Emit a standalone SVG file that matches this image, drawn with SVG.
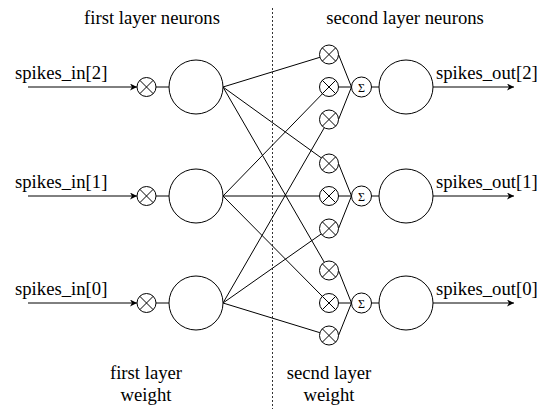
<svg xmlns="http://www.w3.org/2000/svg" width="555" height="409" viewBox="0 0 555 409">
<defs>
<style>
.t{font-family:"Liberation Serif","Times New Roman",serif;font-size:18.7px;fill:#000}
.c{text-anchor:middle}
.ln{stroke:#000;stroke-width:1;fill:none}
.nd{stroke:#000;stroke-width:1;fill:#fff}
.sig{font-family:"Liberation Serif","Times New Roman",serif;font-size:12px;text-anchor:middle;fill:#000}
</style>
<marker id="ah" markerWidth="8" markerHeight="8" refX="7" refY="3.5" orient="auto" markerUnits="userSpaceOnUse">
<path d="M0,0 L7,3.5 L0,7 L2,3.5 Z" fill="#000"/>
</marker>
<g id="mul"><circle r="9.5" class="nd"/><path d="M-6.7,-6.7L6.7,6.7M-6.7,6.7L6.7,-6.7" class="ln"/></g>
</defs>
<rect width="555" height="409" fill="#fff"/>
<line x1="272.5" y1="8" x2="272.5" y2="409" stroke="#333" stroke-width="1" stroke-dasharray="2 2"/>
<text class="t c" x="152" y="24">first layer neurons</text>
<text class="t c" x="405" y="24">second layer neurons</text>
<text class="t c" x="146" y="379">first layer</text>
<text class="t c" x="146" y="401">weight</text>
<text class="t c" x="329" y="379">secnd layer</text>
<text class="t c" x="329" y="401">weight</text>
<g id="connectors">
<line x1="28" y1="87" x2="137" y2="87" class="ln" marker-end="url(#ah)"/>
<line x1="28" y1="196" x2="137" y2="196" class="ln" marker-end="url(#ah)"/>
<line x1="28" y1="303" x2="137" y2="303" class="ln" marker-end="url(#ah)"/>
<line x1="156" y1="87" x2="169" y2="87" class="ln"/>
<line x1="156" y1="196" x2="169" y2="196" class="ln"/>
<line x1="156" y1="303" x2="169" y2="303" class="ln"/>
<line x1="223" y1="87" x2="319.9" y2="57.3" class="ln"/>
<line x1="223" y1="87" x2="321.3" y2="157.9" class="ln"/>
<line x1="223" y1="87" x2="324.3" y2="262.3" class="ln"/>
<line x1="223" y1="196" x2="322.4" y2="93.8" class="ln"/>
<line x1="223" y1="196" x2="319.5" y2="196" class="ln"/>
<line x1="223" y1="196" x2="322.3" y2="296.3" class="ln"/>
<line x1="223" y1="303" x2="324.3" y2="127.7" class="ln"/>
<line x1="223" y1="303" x2="321.2" y2="234" class="ln"/>
<line x1="223" y1="303" x2="319.9" y2="332.7" class="ln"/>
<path d="M338.5,54.5L351.5,87M338.5,87H351.5M338.5,119.5L351.5,87" class="ln"/>
<path d="M338.5,163.5L351.5,196M338.5,196H351.5M338.5,228.5L351.5,196" class="ln"/>
<path d="M338.5,270.5L351.5,303M338.5,303H351.5M338.5,335.5L351.5,303" class="ln"/>
<line x1="371.5" y1="87" x2="379" y2="87" class="ln"/>
<line x1="371.5" y1="196" x2="379" y2="196" class="ln"/>
<line x1="371.5" y1="303" x2="379" y2="303" class="ln"/>
<line x1="433" y1="87" x2="514" y2="87" class="ln" marker-end="url(#ah)"/>
<line x1="433" y1="196" x2="514" y2="196" class="ln" marker-end="url(#ah)"/>
<line x1="433" y1="303" x2="514" y2="303" class="ln" marker-end="url(#ah)"/>
</g>
<g id="in2"><text class="t" x="15" y="79">spikes_in[2]</text></g>
<g id="in1"><text class="t" x="15" y="188">spikes_in[1]</text></g>
<g id="in0"><text class="t" x="15" y="295">spikes_in[0]</text></g>
<g id="w1_2"><use href="#mul" x="146.5" y="87"/></g>
<g id="w1_1"><use href="#mul" x="146.5" y="196"/></g>
<g id="w1_0"><use href="#mul" x="146.5" y="303"/></g>
<g id="n1_2"><circle cx="196" cy="87" r="27" class="nd"/></g>
<g id="n1_1"><circle cx="196" cy="196" r="27" class="nd"/></g>
<g id="n1_0"><circle cx="196" cy="303" r="27" class="nd"/></g>
<g id="w2_2a"><use href="#mul" x="329" y="54.5"/></g>
<g id="w2_2b"><use href="#mul" x="329" y="87"/></g>
<g id="w2_2c"><use href="#mul" x="329" y="119.5"/></g>
<g id="w2_1a"><use href="#mul" x="329" y="163.5"/></g>
<g id="w2_1b"><use href="#mul" x="329" y="196"/></g>
<g id="w2_1c"><use href="#mul" x="329" y="228.5"/></g>
<g id="w2_0a"><use href="#mul" x="329" y="270.5"/></g>
<g id="w2_0b"><use href="#mul" x="329" y="303"/></g>
<g id="w2_0c"><use href="#mul" x="329" y="335.5"/></g>
<g id="sum2"><circle cx="361.5" cy="87" r="10" class="nd"/><text class="sig" x="361.5" y="91.5">Σ</text></g>
<g id="sum1"><circle cx="361.5" cy="196" r="10" class="nd"/><text class="sig" x="361.5" y="200.5">Σ</text></g>
<g id="sum0"><circle cx="361.5" cy="303" r="10" class="nd"/><text class="sig" x="361.5" y="307.5">Σ</text></g>
<g id="n2_2"><circle cx="406" cy="87" r="27" class="nd"/></g>
<g id="n2_1"><circle cx="406" cy="196" r="27" class="nd"/></g>
<g id="n2_0"><circle cx="406" cy="303" r="27" class="nd"/></g>
<g id="out2"><text class="t" x="436" y="79">spikes_out[2]</text></g>
<g id="out1"><text class="t" x="436" y="188">spikes_out[1]</text></g>
<g id="out0"><text class="t" x="436" y="295">spikes_out[0]</text></g>
</svg>
